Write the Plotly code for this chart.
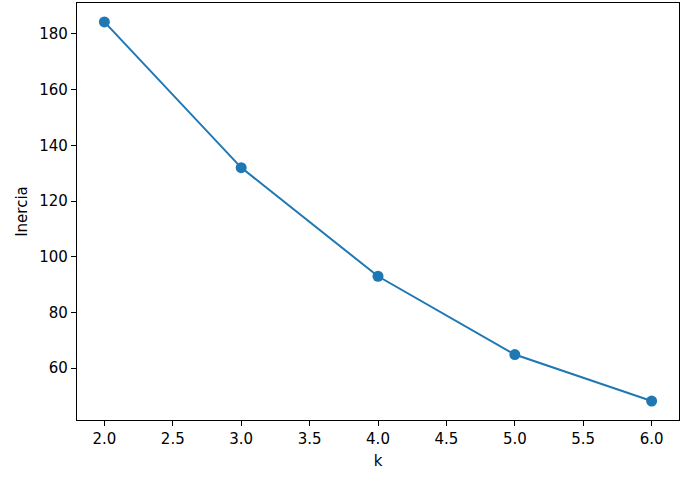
import plotly.graph_objects as go

k = [2, 3, 4, 5, 6]
inercia = [184.3, 132.0, 93.0, 64.9, 48.2]

fig = go.Figure()
fig.add_trace(go.Scatter(
    x=k, y=inercia, mode="lines+markers",
    line=dict(color="#1f77b4", width=2),
    marker=dict(color="#1f77b4", size=11),
    showlegend=False,
))

axis_common = dict(
    showgrid=False, zeroline=False, showline=True, linecolor="black", linewidth=1.2,
    mirror=True, ticks="outside", ticklen=5, tickcolor="black", tickwidth=1.2,
    tickfont=dict(family="DejaVu Sans", size=15, color="black"),
)

fig.update_xaxes(range=[1.8, 6.2], tickmode="array",
                 tickvals=[2.0, 2.5, 3.0, 3.5, 4.0, 4.5, 5.0, 5.5, 6.0],
                 ticktext=["2.0", "2.5", "3.0", "3.5", "4.0", "4.5", "5.0", "5.5", "6.0"],
                 title=dict(text="k", font=dict(family="DejaVu Sans", size=15, color="black"), standoff=8),
                 **axis_common)
fig.update_yaxes(range=[41.4, 191.1], tickmode="array",
                 tickvals=[60, 80, 100, 120, 140, 160, 180],
                 title=dict(text="Inercia", font=dict(family="DejaVu Sans", size=15, color="black"), standoff=8),
                 **axis_common)

fig.update_layout(
    width=696, height=484,
    margin=dict(l=77, r=17, t=3, b=64),
    plot_bgcolor="white", paper_bgcolor="white",
)

fig.write_html("out.html", config={"displayModeBar": False},
               post_script="document.body.style.margin='0';")
